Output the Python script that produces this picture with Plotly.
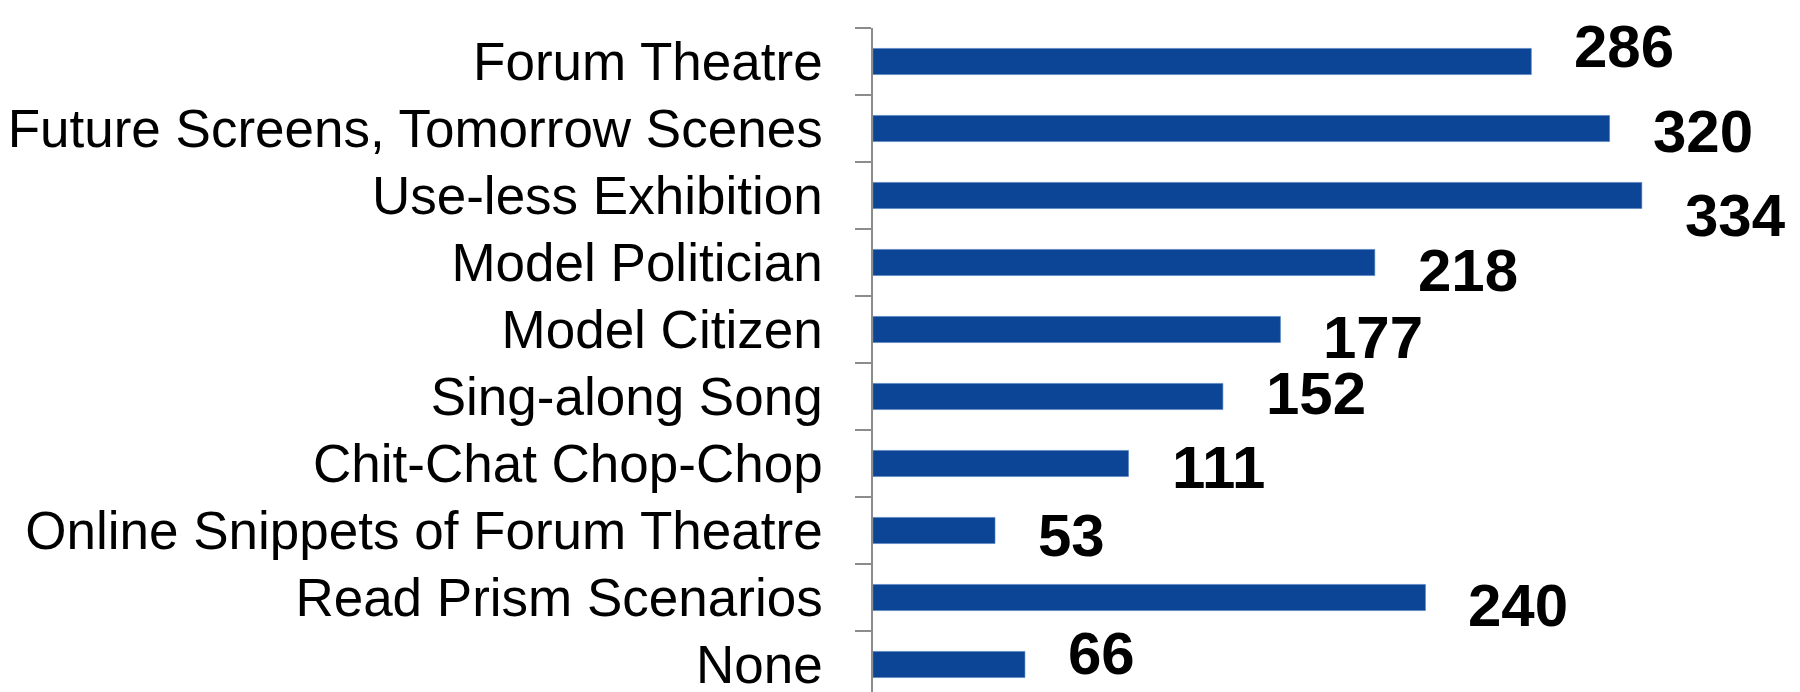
import plotly.graph_objects as go

categories = [
    "Forum Theatre",
    "Future Screens, Tomorrow Scenes",
    "Use-less Exhibition",
    "Model Politician",
    "Model Citizen",
    "Sing-along Song",
    "Chit-Chat Chop-Chop",
    "Online Snippets of Forum Theatre",
    "Read Prism Scenarios",
    "None",
]
values = [286, 320, 334, 218, 177, 152, 111, 53, 240, 66]

# label vertical nudges in px (positive = down), style only
label_dy = [-15, 3, 20, 8, 8, -3, 4, 5, 8, -11]

BAR_COLOR = "#0C4595"

fig = go.Figure(
    go.Bar(
        x=values,
        y=categories,
        orientation="h",
        width=0.39,
        marker=dict(color=BAR_COLOR, line=dict(color="#4f7fc0", width=0.6)),
        hoverinfo="skip",
    )
)

for cat, val, dy in zip(categories, values, label_dy):
    fig.add_annotation(
        x=val, y=cat, text="<b>" + str(val) + "</b>", showarrow=False,
        xanchor="left", yanchor="middle", xshift=41, yshift=-dy,
        font=dict(family="Liberation Sans, Arial, sans-serif", size=60, color="black"),
    )

fig.update_layout(
    width=1800, height=692,
    margin=dict(l=865, r=0, t=20, b=0, autoexpand=False),
    paper_bgcolor="white", plot_bgcolor="white",
    showlegend=False,
    font=dict(family="Liberation Sans, Arial, sans-serif"),
)
fig.update_xaxes(
    range=[0, 406.2], visible=False, showgrid=False, zeroline=False, automargin=False,
)
fig.update_yaxes(
    type="category",
    categoryorder="array", categoryarray=categories,
    range=[9.53, -0.5],
    automargin=False,
    showline=True, linecolor="#8c8c8c", linewidth=1.5,
    ticks="outside", tickson="boundaries", ticklen=16, tickcolor="#8c8c8c", tickwidth=1.5,
    ticklabelstandoff=38,
    tickfont=dict(family="Liberation Sans, Arial, sans-serif", size=53, color="black"),
    showgrid=False, zeroline=False,
)

fig.write_html("out.html")
